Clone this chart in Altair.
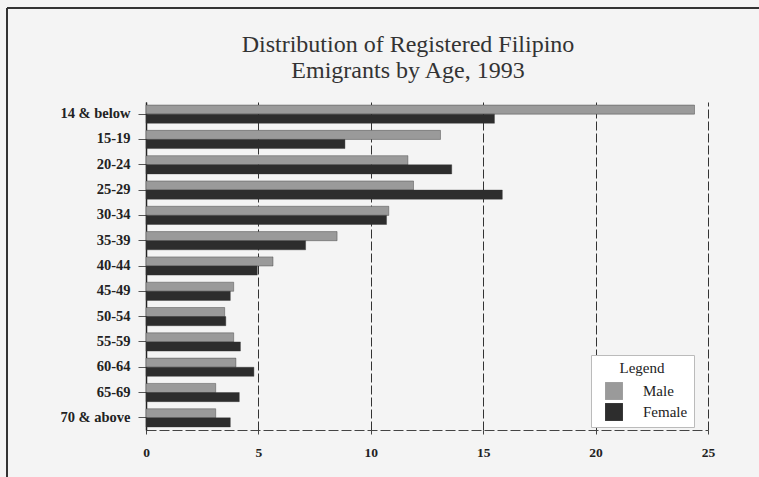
import altair as alt
import pandas as pd

ages = ["14 & below", "15-19", "20-24", "25-29", "30-34", "35-39", "40-44",
        "45-49", "50-54", "55-59", "60-64", "65-69", "70 & above"]
male = [24.4, 13.1, 11.65, 11.9, 10.8, 8.5, 5.65, 3.9, 3.5, 3.9, 4.0, 3.1, 3.1]
female = [15.5, 8.85, 13.6, 15.85, 10.7, 7.1, 4.95, 3.75, 3.55, 4.2, 4.8, 4.15, 3.75]
sexes = ["Male", "Female"]
ticks = [0, 5, 10, 15, 20, 25]

rows = []
for a, m, f in zip(ages, male, female):
    rows.append({"age": a, "sex": "Male", "pct": m})
    rows.append({"age": a, "sex": "Female", "pct": f})
df = pd.DataFrame(rows)

SERIF = "Liberation Serif"
PAD = "\u2002\u2002"

bars = alt.Chart(df).mark_bar(stroke="#333", strokeWidth=0.4).encode(
    x=alt.X("pct:Q",
            scale=alt.Scale(domain=[0, 25], nice=False, zero=True),
            axis=alt.Axis(values=ticks, title=None, grid=True, gridDash=[9, 3],
                          gridColor="#333", gridWidth=1, gridOpacity=1,
                          domainColor="#444", domainDash=[10, 3], domainWidth=1.2,
                          tickColor="#444", tickSize=4, labelPadding=11, labelFlush=False,
                          labelFont=SERIF, labelFontWeight="bold", labelFontSize=13.5,
                          labelColor="#222")),
    y=alt.Y("age:N", sort=ages,
            scale=alt.Scale(paddingInner=0.28, paddingOuter=0.12),
            axis=alt.Axis(title=None, domainColor="#222", domainWidth=1.5,
                          tickColor="#555", tickSize=8, labelPadding=8,
                          labelFont=SERIF, labelFontWeight="bold", labelFontSize=14.5,
                          labelColor="#222")),
    yOffset=alt.YOffset("sex:N", sort=sexes),
    color=alt.Color("sex:N", sort=sexes,
                    scale=alt.Scale(domain=sexes, range=["#9a9a9a", "#2d2d2d"]),
                    legend=alt.Legend(title="Legend", orient="none", legendX=445, legendY=253,
                                      fillColor="#ffffff", strokeColor="#bbbbbb",
                                      padding=6, symbolType="square", symbolSize=320,
                                      symbolStrokeWidth=0, labelOffset=20,
                                      symbolOffset=8, rowPadding=3,
                                      labelExpr="datum.label + '" + PAD + "'",
                                      titleFont=SERIF, titleFontWeight="normal",
                                      titleFontSize=15, titleColor="#222",
                                      titleAnchor="middle", titlePadding=6,
                                      labelFont=SERIF, labelFontSize=15,
                                      labelColor="#222", labelLimit=200)),
)

one = pd.DataFrame({"d": [0]})
frame_top = alt.Chart(one).mark_rule(color="#333", strokeWidth=2).encode(
    x=alt.value(-139), x2=alt.value(613), y=alt.value(-94))
frame_left = alt.Chart(one).mark_rule(color="#333", strokeWidth=2).encode(
    x=alt.value(-139), y=alt.value(-94), y2=alt.value(375))

chart = alt.layer(bars, frame_top, frame_left).properties(
    width=562, height=328,
    autosize=alt.AutoSizeParams(type="none"),
    padding={"left": 146, "top": 102, "right": 51, "bottom": 47},
    background="#f4f4f4",
    title=alt.TitleParams(["Distribution of Registered Filipino", "Emigrants by Age, 1993"],
                          font=SERIF, fontSize=24, fontWeight="normal", color="#333",
                          anchor="middle", frame="group", dx=-19, offset=-76, lineHeight=26),
).configure_view(stroke=None)

chart.save("out.html", embed_options={"renderer": "svg", "actions": False})
